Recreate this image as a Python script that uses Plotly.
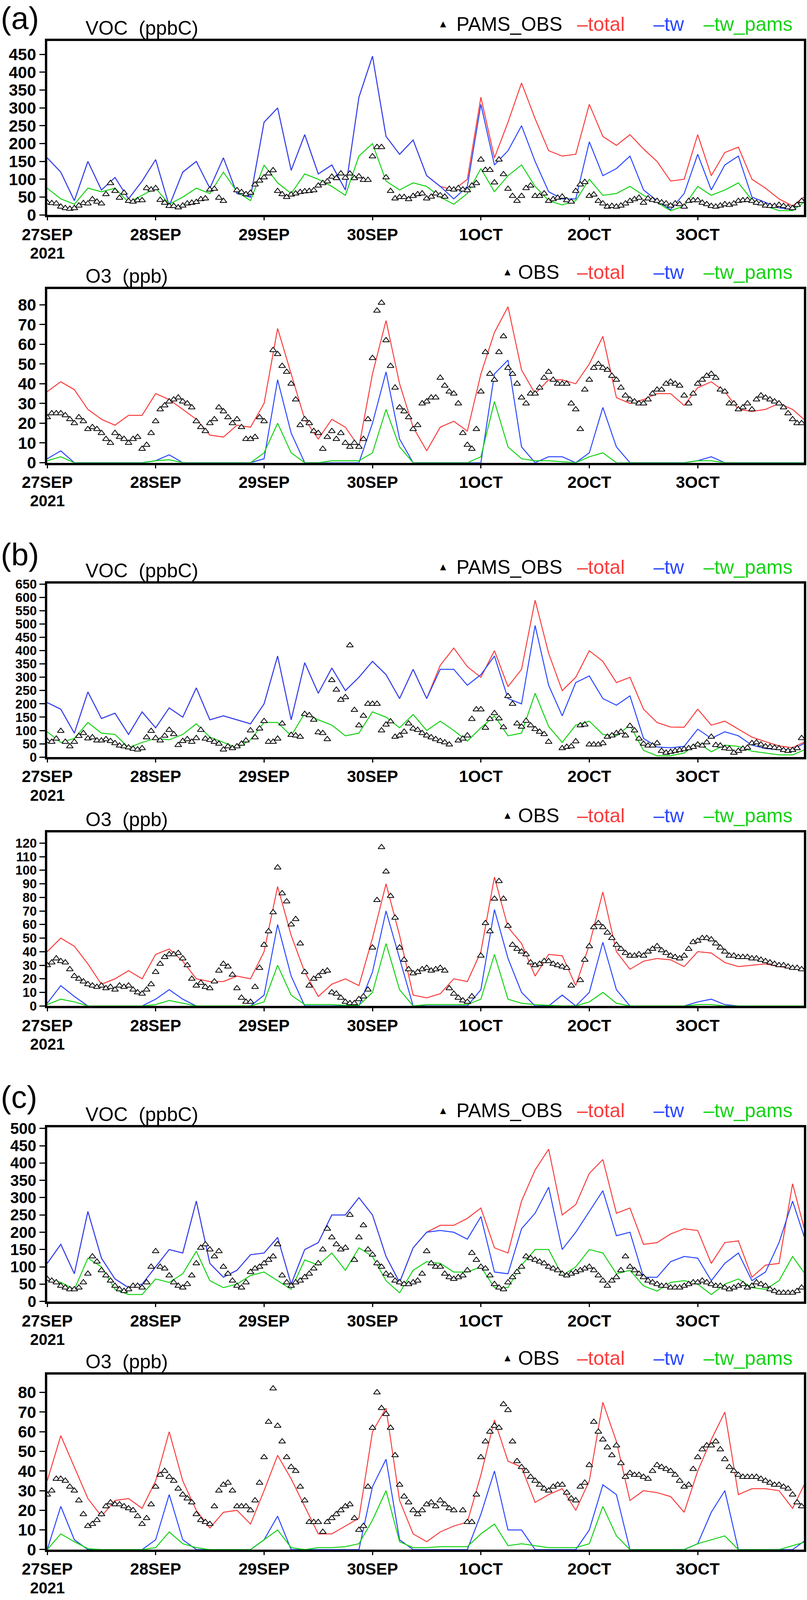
import plotly.graph_objects as go

# canvas size of the reference
W, H = 2067, 4191

# hours since 27SEP2021 00Z: model lines read 3-hourly, observations hourly
hours = list(range(0, 169, 3))
obs_hours = list(range(0, 168))
day_ticks = [0, 24, 48, 72, 96, 120, 144]
day_labels = ["27SEP", "28SEP", "29SEP", "30SEP", "1OCT", "2OCT", "3OCT"]

# ---- (a) VOC (ppbC)
voc_a_obs = [35, 33, 32, 23, 19, 17, 19, 26, 33, 32, 44, 37, 32, 58, 89, 67, 48, 62, 39, 37, 41, 41, 75, 71,
             75, 42, 34, 25, 25, 21, 26, 32, 34, 36, 44, 46, 71, 73, 48, 39, None, None, 69, 64, 58, 62, 85, 96,
             105, 116, 125, 67, 58, 50, 57, 60, 64, 66, 67, 69, 82, 89, 94, 107, 103, 116, 104, 116, 103, 108, 98, 98,
             164, 190, 190, 105, 67, 46, 50, 50, 44, 53, 58, 60, 46, 51, 60, 55, 51, 73, 71, 75, 71, 69, 82, 89,
             155, 126, 126, 91, 155, 114, 73, 53, 39, 53, 75, 82, 53, 53, 60, 39, 44, 48, 51, 41, 37, 67, 85, 92,
             53, 57, 39, 32, 23, 25, 23, 26, 32, 39, 44, 48, 34, 46, 42, 39, 35, 32, 26, 32, 30, 23, 39, 41,
             41, 34, 30, 25, 23, 26, 30, 28, 32, 39, 41, 42, 39, 34, 32, 26, 25, 25, 28, 25, 21, 19, 28, 39]
voc_a_total = [160, 120, 40, 150, 70, 105, 45, 95, 155, 25, 120, 150, 75, 160, 60, 50, 260, 300, 125, 225,
               115, 140, 70, 330, 445, 220, 170, 210, 110, 80, 70, 100, 330, 160, 260, 370, 270, 180, 165, 170,
               310, 220, 195, 225, 185, 150, 95, 100, 225, 110, 175, 190, 100, 75, 45, 25, 55]
voc_a_tw = [160, 120, 40, 150, 70, 105, 45, 95, 155, 25, 120, 150, 75, 160, 60, 50, 260, 300, 125, 225,
            115, 140, 70, 330, 445, 220, 170, 210, 110, 80, 45, 80, 310, 140, 180, 250, 150, 65, 45, 45,
            205, 110, 130, 165, 70, 40, 15, 60, 170, 70, 140, 165, 50, 35, 20, 15, 50]
voc_a_twpams = [75, 45, 30, 75, 65, 75, 35, 55, 75, 30, 50, 75, 60, 120, 65, 40, 140, 90, 60, 115,
                100, 80, 55, 165, 200, 95, 70, 90, 80, 50, 30, 60, 130, 65, 110, 140, 80, 40, 28, 40,
                100, 55, 60, 80, 55, 35, 12, 25, 80, 55, 70, 90, 42, 25, 12, 12, 40]

# ---- (a) O3 (ppb)
o3_a_obs = [23, 25, 25, 25, 24, 22, 20, 23, 21, 17, 18, 17, 15, 12, 10, 15, 13, 12, 10, 12, 13, 7, 9, 15,
            21, 27, 29, 31, 32, 33, 31, 30, 28, 21, 18, 16, 20, 22, 28, 26, 23, 20, 22, 18, 12, 12, 13, 23,
            21, None, 57, 55, 49, 46, 40, 32, 19, 22, 20, 16, 15, 7, 13, 16, 12, 15, 10, 8, 10, 8, 12, 22,
            53, 77, 81, 62, 49, 38, 28, 26, 23, 17, 19, 30, 31, 33, 33, 43, 39, 36, 35, 30, 15, 9, 7, 17,
            36, 56, 45, 42, 56, 64, 48, 45, 40, 33, 30, 35, 35, 38, 43, 46, 42, 40, 40, 40, 30, 27, 17, 37,
            42, 48, 50, 48, 47, 44, 42, 38, 34, 32, 31, 30, 30, 32, 35, 37, 37, 40, 41, 40, 39, 34, 30, 35,
            40, 42, 44, 45, 43, 37, 36, 30, 30, 27, 28, 30, 27, 32, 34, 33, 32, 31, 30, 28, 25, 22, 20, 20]
o3_a_total = [36, 41, 37, 27, 22, 19, 24, 24, 35, 32, 27, 22, 14, 13, 19, 18, 30, 68, 45, 22,
              12, 22, 18, 8, 45, 72, 40, 18, 6, 18, 21, 16, 45, 66, 79, 47, 35, 42, 42, 40,
              50, 64, 33, 30, 32, 35, 35, 29, 38, 41, 36, 27, 26, 27, 30, 27, 21]
o3_a_tw = [2, 6, 0, 0, 0, 0, 0, 0, 1, 4, 0, 0, 0, 0, 0, 0, 2, 42, 15, 0,
           0, 0, 0, 0, 20, 46, 12, 0, 0, 0, 0, 0, 0, 45, 52, 8, 0, 3, 3, 0,
           5, 28, 8, 0, 0, 0, 0, 0, 1, 3, 0, 0, 0, 0, 0, 0, 0]
o3_a_twpams = [1, 3, 0, 0, 0, 0, 0, 0, 1, 1.5, 0, 0, 0, 0, 0, 0, 5, 20, 5, 0,
               0, 1, 1, 1, 5, 27, 8, 0, 0, 0, 0, 0, 3, 31, 8, 2, 1, 1, 0.5, 0,
               3, 5, 0, 0, 0, 0, 0, 0, 1, 1, 0, 0, 0, 0, 0, 0, 0]

# ---- (b) VOC (ppbC)
voc_b_obs = [60, 57, 69, 98, 57, 40, 57, 79, 90, 70, 74, 62, 62, 67, 60, 52, 43, 40, 36, 31, 28, 33, 74, 98,
             71, 62, 80, 102, 86, 45, 60, 67, 57, 71, 102, 69, 64, 57, 50, 28, 40, 33, 40, 50, 62, 100, 74, 107,
             135, 57, 57, 69, 126, None, 83, 81, 76, 162, 157, 140, 93, 90, 67, 289, 253, 215, 225, 420, 177, 119, 155, 200,
             200, 200, 100, 122, 134, 76, 81, 95, 126, 107, 102, 90, 81, 74, 67, 60, 55, 47, None, 62, 69, 81, 143, 179,
             179, 110, 143, 165, 145, 112, 229, 200, 126, 114, 136, 119, 105, 95, 86, 57, None, None, 33, 38, 40, 59, 119, 122,
             47, 47, 47, 52, 76, 81, 90, 95, 81, 117, 100, 69, 50, 43, 43, 52, 23, 16, 19, 23, 26, 30, 33, 38,
             47, 43, 55, 76, 45, 43, 33, 31, 16, 23, 31, 35, 52, 55, 47, 40, 38, 35, 33, 26, 23, 26, 33, 71]
voc_b_total = [205, 180, 90, 245, 145, 165, 85, 170, 110, 185, 150, 260, 140, 155, 140, 125, 200, 380, 140, 355,
               240, 335, 250, 300, 360, 310, 220, 330, 220, 345, 410, 340, 300, 400, 265, 330, 590, 390, 250, 300,
               400, 360, 280, 300, 180, 130, 113, 112, 180, 120, 135, 105, 75, 58, 42, 35, 60]
voc_b_tw = [205, 180, 90, 245, 145, 165, 85, 170, 110, 185, 150, 260, 140, 155, 140, 125, 200, 380, 140, 355,
            240, 335, 250, 300, 360, 310, 220, 330, 220, 330, 330, 270, 310, 380, 220, 200, 495, 270, 155, 280,
            305, 220, 195, 230, 70, 38, 35, 40, 105, 70, 95, 80, 45, 32, 28, 28, 55]
voc_b_twpams = [95, 55, 70, 130, 90, 85, 35, 55, 70, 65, 85, 125, 75, 55, 35, 65, 130, 130, 80, 165,
                140, 120, 80, 90, 170, 150, 110, 160, 100, 135, 100, 60, 110, 155, 80, 90, 240, 115, 55, 120,
                135, 85, 80, 120, 25, 5, 5, 15, 55, 20, 45, 40, 22, 15, 8, 8, 30]

# ---- (b) O3 (ppb)
o3_b_obs = [30, 32, 35, 33, 32, 27, 22, 20, 18, 16, 15, 14, 15, 13, 14, 12, 15, 14, 15, 12, 10, 9, 12, 16,
            25, 31, 36, 38, 38, 39, 35, 30, 20, 15, 17, 14, 13, 18, 26, 31, 29, 23, 13, 6, 3, 3, 14, 28,
            45, 55, 69, 102, 83, 77, 60, 64, 46, 25, 15, 20, 22, 25, 26, 10, 9, 6, 3, 2, 2, 5, 7, 12,
            43, 78, 117, 99, 81, 65, 43, 34, 27, 24, 25, 27, 28, 26, 27, 28, 26, 13, 9, 6, 4, 3, 7, None,
            37, 61, 55, 79, 92, 79, 59, 45, 42, 40, 38, 32, 30, 31, 33, 33, 31, 30, 29, 28, 15, None, 19, 34,
            44, 58, 61, 58, 54, 50, 45, 42, 39, 37, 37, 38, 37, 40, 42, 44, 41, 39, 37, 36, 35, 37, 42, 47,
            48, 50, 50, 49, 46, 43, 40, 37, 37, 36, 36, 36, 35, 35, 34, 33, 32, 31, 30, 30, 29, 28, 28, 27]
o3_b_total = [40, 50, 44, 31, 16, 20, 26, 20, 38, 42, 33, 20, 18, 18, 22, 20, 40, 88, 52, 25,
              7, 16, 20, 15, 50, 90, 52, 8, 6, 9, 20, 18, 40, 95, 58, 46, 22, 38, 37, 15,
              45, 84, 40, 27, 33, 35, 34, 29, 40, 39, 32, 29, 30, 31, 29, 28, 27]
o3_b_tw = [2, 15, 7, 0, 0, 0, 0, 0, 5, 12, 5, 0, 0, 0, 0, 0, 8, 60, 22, 0,
           0, 0, 0, 0, 25, 70, 35, 0, 0, 0, 0, 0, 12, 71, 35, 10, 0, 0, 8, 0,
           10, 47, 12, 0, 0, 0, 0, 0, 3, 5, 1, 0, 0, 0, 0, 0, 0]
o3_b_twpams = [1, 5, 3, 0, 0, 0, 0, 0, 1, 4, 2, 0, 0, 0, 0, 0, 3, 30, 8, 1,
               1, 1, 0.5, 0.5, 10, 46, 12, 0, 1, 1, 1, 1, 5, 38, 5, 2, 1, 0.5, 0, 0,
               3, 10, 2, 0, 0, 0, 0, 0, 1, 1, 0, 0, 0, 0, 0, 0, 0]

# ---- (c) VOC (ppbC)
voc_c_obs = [65, 60, 55, 45, 40, 35, 35, 40, 55, 80, 130, 115, 90, 75, 60, 45, 35, 30, 35, 45, 45, 40, 55, 100,
             145, 100, 95, 75, 55, 45, 40, 50, 75, 110, 155, 165, 150, 130, 145, 100, 80, 60, 45, 40, 55, 85, 95, 100,
             110, 120, 130, 165, 75, 55, 45, 55, 60, 70, 80, 95, 110, 150, 210, 185, 165, 150, 155, 250, 120, 185, 220, 150,
             135, 110, 100, 80, 75, 60, 55, 50, 50, 55, 60, 80, 145, 110, 100, 100, 80, 70, 65, 70, 75, 90, 140, 120,
             100, 95, 75, 50, 40, 35, 55, 70, 85, 100, 130, 125, 120, 115, 110, 100, 95, 90, 80, 75, 80, 85, 90, 95,
             100, 90, 75, 60, 45, 60, 70, 90, 130, 100, 90, 80, 70, 60, 55, 50, 45, 45, 40, 40, 40, 45, 50, 55,
             55, 60, 55, 50, 45, 45, 40, 35, 40, 45, 50, 40, 45, 55, 50, 45, 35, 30, 25, 25, 25, 25, 30, 40]
voc_c_total = [110, 165, 80, 260, 125, 65, 40, 50, 100, 150, 140, 290, 110, 70, 90, 135, 140, 185, 50, 150,
               170, 250, 250, 300, 250, 130, 55, 155, 200, 220, 220, 240, 270, 155, 140, 290, 380, 440, 250, 280,
               370, 410, 255, 270, 165, 170, 195, 210, 205, 110, 170, 175, 70, 105, 110, 340, 190]
voc_c_tw = [110, 165, 80, 260, 125, 65, 40, 50, 100, 150, 140, 290, 110, 70, 90, 135, 140, 185, 50, 150,
            170, 250, 250, 300, 250, 130, 55, 155, 200, 205, 200, 180, 245, 85, 80, 210, 255, 330, 150, 200,
            260, 320, 190, 200, 70, 70, 115, 130, 125, 60, 110, 140, 60, 85, 170, 290, 170]
voc_c_twpams = [65, 55, 35, 125, 100, 35, 20, 20, 65, 55, 80, 145, 60, 40, 50, 75, 85, 60, 35, 120,
                105, 140, 90, 155, 130, 60, 25, 90, 115, 110, 85, 85, 100, 40, 40, 105, 150, 150, 75, 100,
                150, 140, 80, 90, 45, 30, 55, 60, 50, 20, 50, 65, 40, 35, 60, 130, 75]

# ---- (c) O3 (ppb)
o3_c_obs = [28, 30, 36, 36, 35, 32, 30, 25, 18, 12, 13, 15, 18, 22, 24, 23, 23, 22, 21, 20, 17, 13, 16, 23,
            32, 38, 40, 37, 35, 31, 28, 26, 24, 18, 15, 14, 13, 22, 30, 33, 34, 30, 22, 22, 22, 20, 25, 34,
            47, 65, 82, 63, 55, 47, 42, 40, 32, 25, 14, 14, 14, 9, 14, 16, 18, 20, 22, 23, 16, 10, 12, 32,
            62, 80, 72, 69, 62, 48, 33, 27, 24, 20, 18, 20, 23, 24, 22, 25, 23, 21, 20, None, 20, 14, 14, 28,
            47, 55, 60, 63, 62, 74, 71, 55, 45, 42, 40, 37, 35, 33, 31, 30, 32, 33, 33, 29, 26, 25, 32, 34,
            43, 65, 60, 56, 52, 48, 53, 44, 37, 39, 38, 38, 37, 36, 40, 43, 42, 41, 40, 38, 35, 32, 33, 41,
            47, 51, 53, 53, 55, 51, 46, 42, 40, 38, 37, 37, 37, 37, 36, 35, 34, 33, 33, 32, 31, 28, 24, 22]
o3_c_total = [35, 58, 42, 26, 17, 25, 26, 21, 35, 60, 35, 20, 11, 19, 20, 13, 30, 48, 36, 22,
              8, 8, 12, 16, 60, 72, 25, 8, 4, 9, 12, 14, 38, 66, 45, 42, 24, 28, 31, 20,
              35, 75, 55, 25, 30, 29, 27, 19, 40, 56, 70, 28, 31, 31, 30, 21, 35]
o3_c_tw = [0, 22, 5, 0, 0, 0, 0, 0, 5, 28, 5, 0, 0, 0, 0, 0, 5, 17, 0, 0,
           0, 0, 0, 0, 32, 46, 5, 0, 0, 0, 0, 0, 18, 40, 10, 10, 0, 0, 0, 0,
           10, 33, 28, 0, 0, 0, 0, 0, 3, 19, 30, 0, 0, 0, 0, 0, 5]
o3_c_twpams = [0, 8, 4, 0.5, 0, 0, 0, 0, 1, 9, 3, 1, 0, 0, 0, 0, 5, 10, 1, 0,
               1, 1, 1.5, 3, 15, 30, 4, 1, 1, 1.5, 1.5, 1.5, 8, 13, 2, 3, 2, 1, 1, 1,
               3, 22, 7, 0, 0, 0, 0, 0, 3, 5, 7, 0, 0, 0, 0, 2, 4]

RED = "rgb(250,60,60)"
BLUE = "rgb(40,70,255)"
GREEN = "rgb(20,210,20)"
FONT = "Liberation Sans, Arial, sans-serif"

# panel boxes in pixels (top, bottom) measured on the reference
panels = [
    dict(obs=voc_a_obs, total=voc_a_total, tw=voc_a_tw, pams=voc_a_twpams, ymax=488, dtick=50, yfont=42,
         title="VOC\u00a0\u00a0(ppbC)", obsname="PAMS_OBS", top=107, bot=563, tag="(a)"),
    dict(obs=o3_a_obs, total=o3_a_total, tw=o3_a_tw, pams=o3_a_twpams, ymax=88, dtick=10, yfont=42,
         title="O3\u00a0\u00a0(ppb)", obsname="OBS", top=757, bot=1212, tag=None),
    dict(obs=voc_b_obs, total=voc_b_total, tw=voc_b_tw, pams=voc_b_twpams, ymax=652, dtick=50, yfont=33,
         title="VOC\u00a0\u00a0(ppbC)", obsname="PAMS_OBS", top=1529, bot=1983, tag="(b)"),
    dict(obs=o3_b_obs, total=o3_b_total, tw=o3_b_tw, pams=o3_b_twpams, ymax=128, dtick=10, yfont=33,
         title="O3\u00a0\u00a0(ppb)", obsname="OBS", top=2180, bot=2635, tag=None),
    dict(obs=voc_c_obs, total=voc_c_total, tw=voc_c_tw, pams=voc_c_twpams, ymax=503, dtick=50, yfont=40,
         title="VOC\u00a0\u00a0(ppbC)", obsname="PAMS_OBS", top=2953, bot=3409, tag="(c)"),
    dict(obs=o3_c_obs, total=o3_c_total, tw=o3_c_tw, pams=o3_c_twpams, ymax=89, dtick=10, yfont=42,
         title="O3\u00a0\u00a0(ppb)", obsname="OBS", top=3601, bot=4059, tag=None),
]
tag_tops = {"(a)": 0, "(b)": 1405, "(c)": 2826}

X0, X1 = 121 / W, 2059 / W


def py(px):
    # pixel row -> paper y
    return 1 - px / H


fig = go.Figure()
annotations = []
layout = {}

for k, p in enumerate(panels):
    assert len(p["obs"]) == len(obs_hours), (k, len(p["obs"]))
    for name in ("total", "tw", "pams"):
        assert len(p[name]) == len(hours), (k, name, len(p[name]))
    n = "" if k == 0 else str(k + 1)
    xa, ya = "x" + n, "y" + n

    fig.add_trace(go.Scatter(x=hours, y=p["total"], xaxis=xa, yaxis=ya, mode="lines",
                             line=dict(color=RED, width=2.5), showlegend=False))
    fig.add_trace(go.Scatter(x=hours, y=p["tw"], xaxis=xa, yaxis=ya, mode="lines",
                             line=dict(color=BLUE, width=2.5), showlegend=False))
    fig.add_trace(go.Scatter(x=hours, y=p["pams"], xaxis=xa, yaxis=ya, mode="lines",
                             line=dict(color=GREEN, width=2.5), showlegend=False))
    fig.add_trace(go.Scatter(x=obs_hours, y=p["obs"], xaxis=xa, yaxis=ya, mode="markers",
                             marker=dict(symbol="triangle-up", size=15, color="white",
                                         line=dict(color="black", width=2)),
                             showlegend=False))

    layout["xaxis" + n] = dict(
        domain=[X0, X1], anchor=ya, range=[0, 167.5], automargin=False,
        tickmode="array", tickvals=day_ticks, ticktext=day_labels,
        ticks="outside", ticklen=8, tickwidth=3, tickcolor="black",
        showline=True, linewidth=6, linecolor="black", mirror=True,
        showgrid=False, zeroline=False,
        tickfont=dict(family=FONT, size=42, color="black", weight="bold"),
    )
    layout["yaxis" + n] = dict(
        domain=[py(p["bot"]), py(p["top"])], anchor=xa, range=[0, p["ymax"]], automargin=False,
        tick0=0, dtick=p["dtick"],
        ticks="outside", ticklen=14, tickwidth=3, tickcolor="black",
        showline=True, linewidth=6, linecolor="black", mirror=True,
        showgrid=False, zeroline=False,
        tickfont=dict(family=FONT, size=p["yfont"], color="black", weight="bold"),
    )

    # year under the first date label
    annotations.append(dict(text="2021", xref="paper", yref="paper", x=X0, y=py(p["bot"] + 100),
                            xanchor="center", yanchor="middle", showarrow=False, borderpad=0,
                            font=dict(family=FONT, size=40, color="black", weight="bold")))
    # panel title
    annotations.append(dict(text=p["title"], xref="paper", yref="paper", x=217 / W, y=py(p["top"] - 3),
                            xanchor="left", yanchor="bottom", showarrow=False,
                            font=dict(family=FONT, size=50, color="black")))
    # legend drawn as text, like the original
    leg_y = py(p["top"] - 13)
    if p["obsname"] == "PAMS_OBS":
        tri_x, name_x = 1120, 1167
    else:
        tri_x, name_x = 1285, 1325
    annotations.append(dict(text="\u25b2", xref="paper", yref="paper", x=tri_x / W, y=py(p["top"] - 27),
                            xanchor="left", yanchor="bottom", showarrow=False,
                            font=dict(family=FONT, size=26, color="black")))
    annotations.append(dict(text=p["obsname"], xref="paper", yref="paper", x=name_x / W, y=leg_y,
                            xanchor="left", yanchor="bottom", showarrow=False,
                            font=dict(family=FONT, size=50, color="black")))
    for label, col, lx in (("\u2013total", RED, 1476), ("\u2013tw", BLUE, 1672), ("\u2013tw_pams", GREEN, 1800)):
        annotations.append(dict(text=label, xref="paper", yref="paper", x=lx / W, y=leg_y,
                                xanchor="left", yanchor="bottom", showarrow=False,
                                font=dict(family=FONT, size=50, color=col)))

    if p["tag"]:
        annotations.append(dict(text=p["tag"], xref="paper", yref="paper", x=0, y=py(tag_tops[p["tag"]]),
                                xanchor="left", yanchor="top", showarrow=False,
                                font=dict(family=FONT, size=80, color="black")))

fig.update_layout(
    template="none",
    width=W, height=H,
    margin=dict(l=0, r=0, t=0, b=0, pad=0),
    paper_bgcolor="white", plot_bgcolor="white",
    showlegend=False,
    annotations=annotations,
    **layout,
)

# no page margin or scrollbars; if the visible area is shorter than the canvas,
# fit the figure height to it (everything is placed in paper units, so it scales)
fit_js = (
    "document.body.style.margin='0';"
    "document.body.style.overflow='hidden';"
    "var gd=document.getElementById('{plot_id}');"
    "var vh=window.innerHeight;"
    "if(vh && vh < " + str(H) + "){Plotly.relayout(gd,{height:vh});}"
)
fig.write_html("out.html", config={"displayModeBar": False}, post_script=fit_js)
